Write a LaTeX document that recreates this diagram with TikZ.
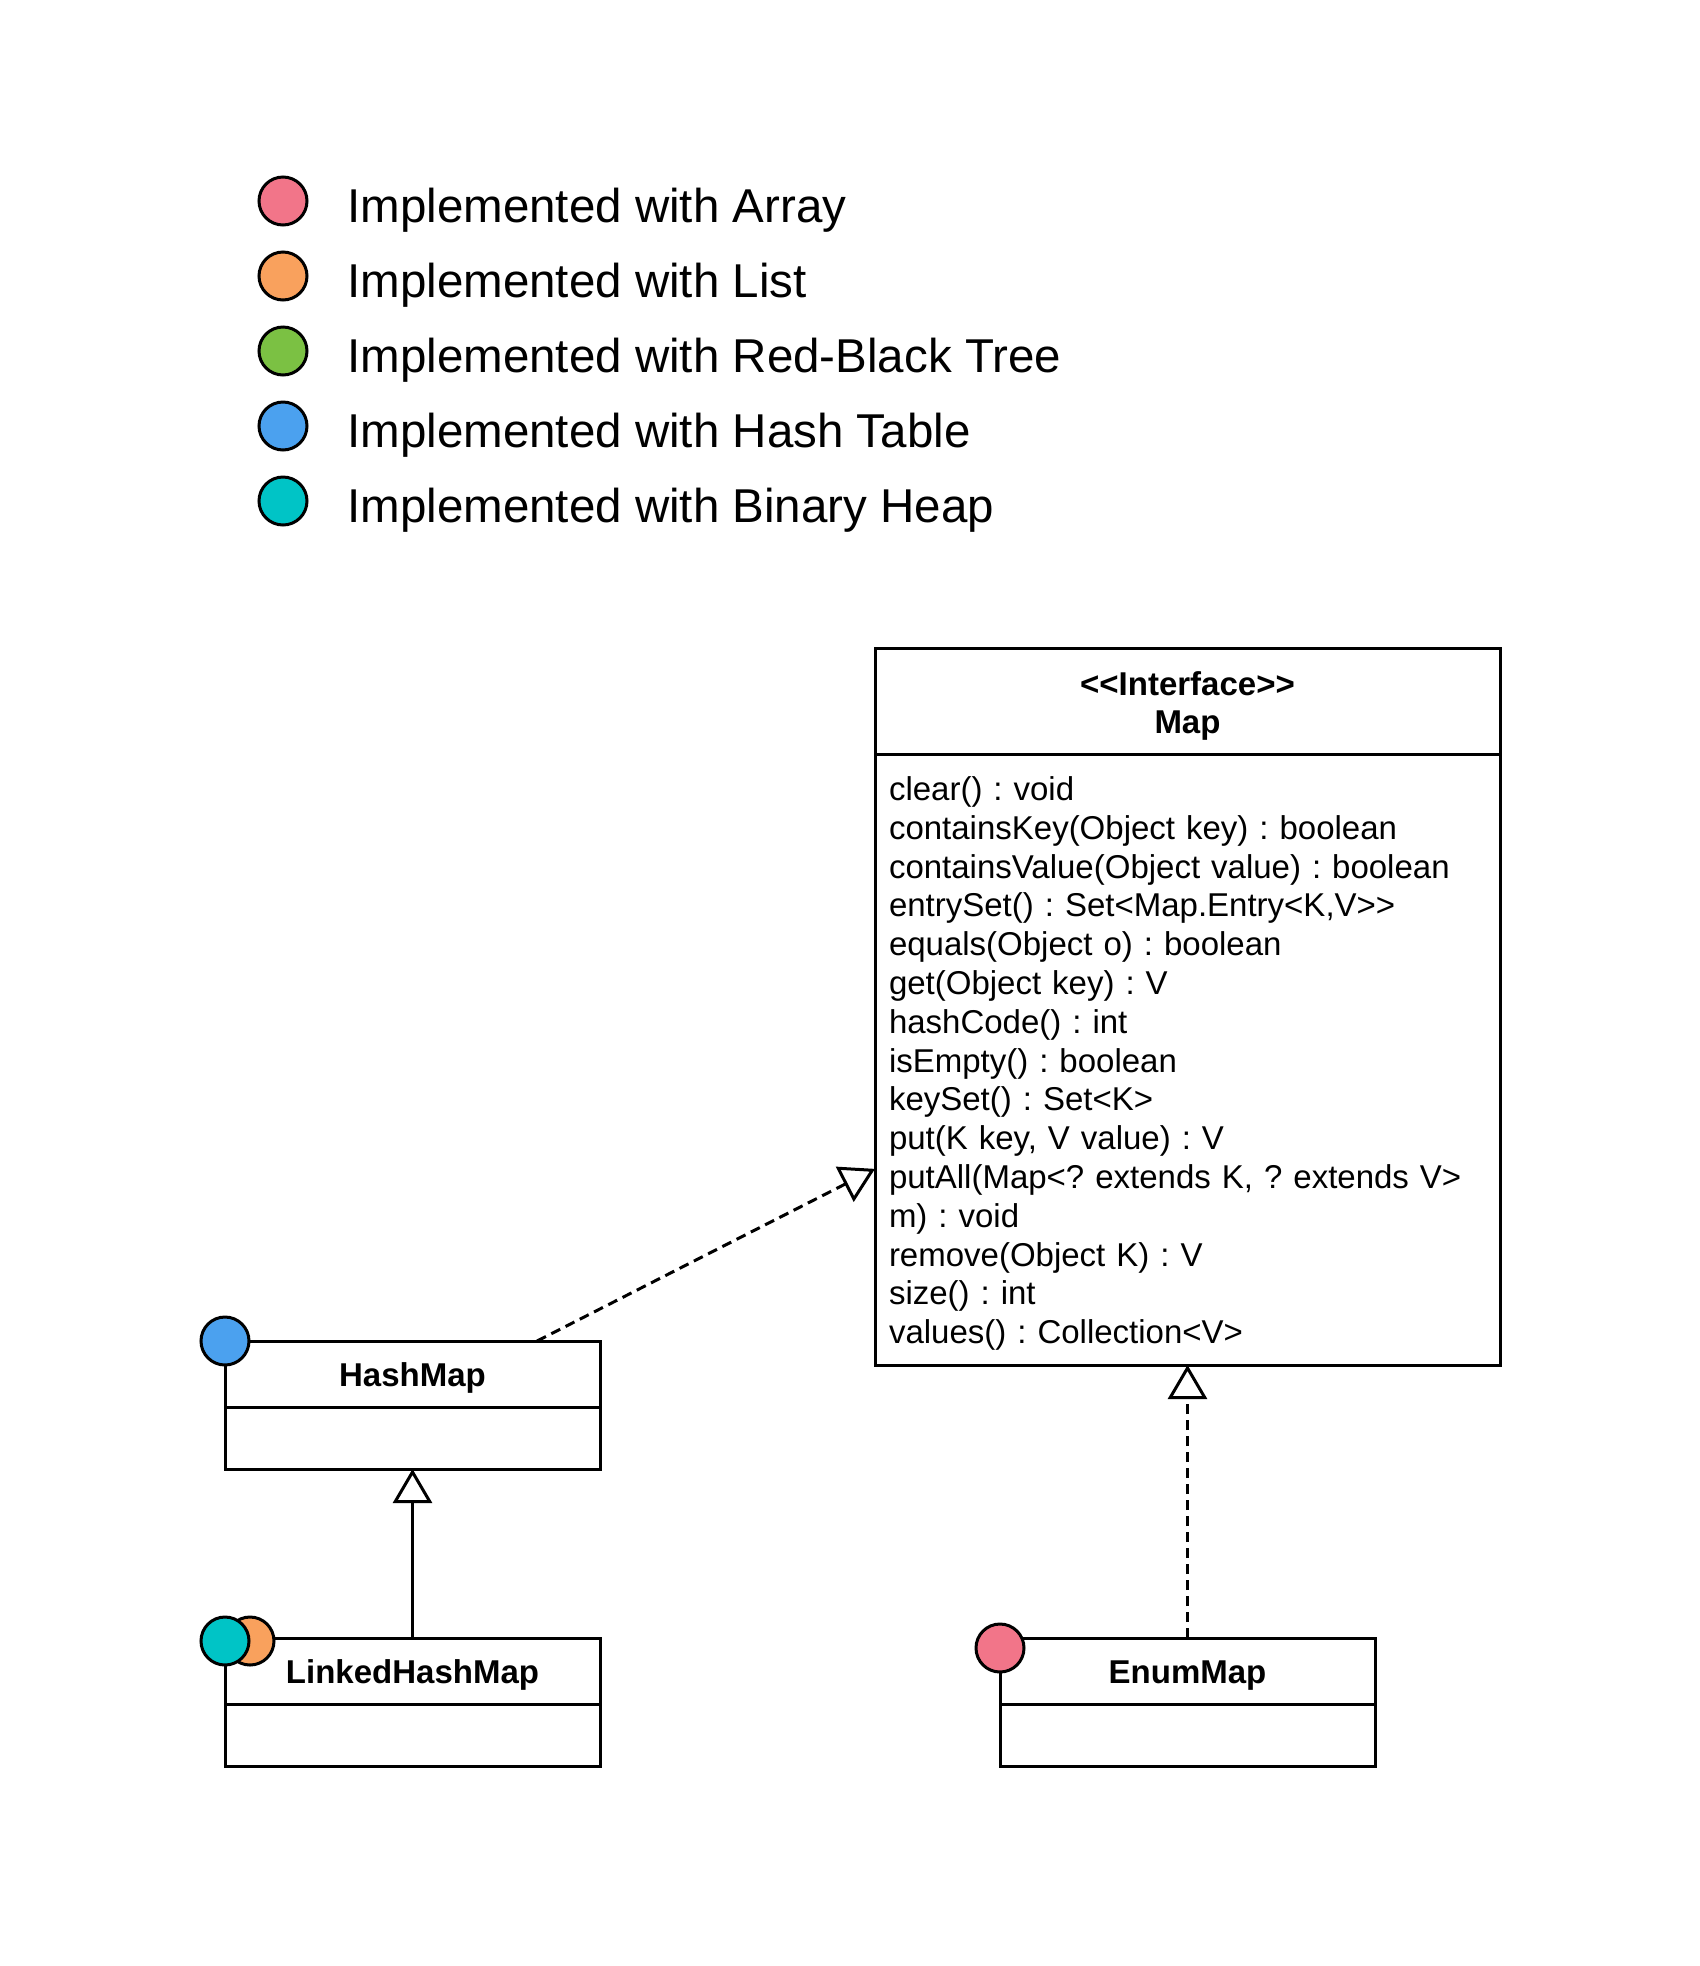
\documentclass[tikz,border=0pt]{standalone}
\usepackage{fontspec}
\setmainfont{Liberation Sans}
\usetikzlibrary{positioning,calc,arrows.meta}
\frenchspacing

\definecolor{arraycol}{HTML}{F27589}
\definecolor{listcol}{HTML}{F9A15D}
\definecolor{treecol}{HTML}{7BC143}
\definecolor{hashcol}{HTML}{4BA1EF}
\definecolor{heapcol}{HTML}{00C4C6}

\tikzset{
  dot/.style={circle, draw, line width=1.5pt, minimum size=24pt, inner sep=0pt},
  legtext/.style={anchor=base west, inner sep=0pt, font=\fontsize{23.75}{28}\selectfont},
  classbox/.style={draw, line width=1.5pt, outer sep=0pt, inner sep=0pt,
    minimum width=187.5pt, font=\bfseries\fontsize{16.5}{19.4}\selectfont},
  classname/.style={classbox, minimum height=33pt, text height=14.4pt, text depth=2pt},
  classbody/.style={classbox, minimum height=31pt},
  realize/.style={line width=1.5pt, dash pattern=on 5pt off 3pt,
    -{Triangle[open, length=17pt, width=19.5pt]}},
  extend/.style={line width=1.5pt, -{Triangle[open, length=17pt, width=19.5pt]}},
}

\begin{document}
\begin{tikzpicture}
  [x=0.5pt, y=-0.5pt]
  \useasboundingbox (0,0) rectangle (1699,1966);

  % legend
  \foreach \y/\col/\what [count=\i] in {201/arraycol/Array, 276/listcol/List,
      351/treecol/Red-Black Tree, 426/hashcol/Hash Table, 501/heapcol/Binary Heap}
  {
    \node[dot, fill=\col] (dot\i) at (283,\y) {};
    \node[legtext] (leg\i) at (347,\y+21) {Implemented with \what};
  }

  % classes
  \node[classbox, anchor=north west, minimum width=312.5pt, minimum height=53pt,
    align=center] (map) at (875,648)
    {\rule{0pt}{17pt}<\kern0pt<Interface>\kern0pt>\\Map};
  \node[classbox, below=0pt of map, minimum width=312.5pt, minimum height=305.5pt,
    inner xsep=7pt, text width=298.5pt, align=left,
    font=\fontsize{16.5}{19.4}\selectfont] (mapbody) {\rule{0pt}{16pt}clear() : void\\
    containsKey(Object key) : boolean\\
    containsValue(Object value) : boolean\\
    entrySet() : Set<Map.Entry<K,V>\kern0pt>\\
    equals(Object o) : boolean\\
    get(Object key) : V\\
    hashCode() : int\\
    isEmpty() : boolean\\
    keySet() : Set<K>\\
    put(K key, V value) : V\\
    putAll(Map<? extends K, ? extends V>\\
    m) : void\\
    remove(Object K) : V\\
    size() : int\\
    values() : Collection<V>};

  \node[classname, anchor=north west] (hashmap) at (225,1341) {HashMap};
  \node[classbody, below=0pt of hashmap] (hashbody) {};
  \node[classname, anchor=north west] (linked) at (225,1638) {LinkedHashMap};
  \node[classbody, below=0pt of linked] (linkedbody) {};
  \node[classname, anchor=north west] (enummap) at (1000,1638) {EnumMap};
  \node[classbody, below=0pt of enummap] (enumbody) {};

  % markers
  \node[dot, fill=hashcol] (hashdot) at (hashmap.north west) {};
  \node[dot, fill=listcol] (linkeddot2) at ([xshift=12.5pt,yshift=-1.5pt]linked.north west) {};
  \node[dot, fill=heapcol] (linkeddot1) at ([yshift=-1.5pt]linked.north west) {};
  \node[dot, fill=arraycol] (enumdot) at ([yshift=-5pt]enummap.north west) {};

  % relations
  \draw[realize] ($(hashmap.north west)!.832!(hashmap.north east)$)
    -- ($(mapbody.north west)!.679!(mapbody.south west)$);
  \draw[realize] (enummap.north) -- (mapbody.south);
  \draw[extend] (linked.north) -- (hashbody.south);
\end{tikzpicture}
\end{document}
